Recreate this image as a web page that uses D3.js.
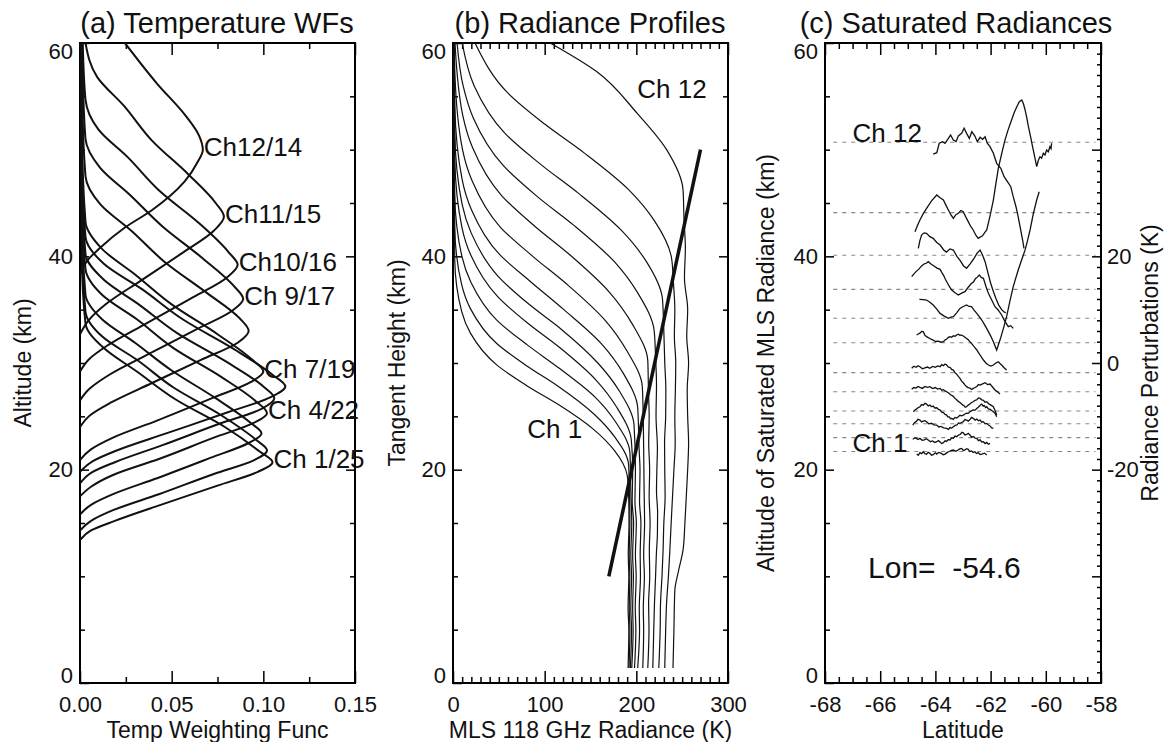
<!DOCTYPE html>
<meta charset="utf-8">
<body style="margin:0;background:#fff">
<script src="https://cdn.jsdelivr.net/npm/d3@7"></script>
<script>

    // ---------- (a) temperature weighting functions, [altitude km, weight]
    var wfCh1 = [[13.4,0],[14.3,0.006],[15.2,0.019],[16.7,0.044],[18.5,0.075],[19.8,0.097],[20.7,0.105],[21.7,0.098],[24.0,0.079],[26.6,0.052],[29.2,0.031],[31.4,0.013],[33.7,0.003],[40,0.001],[60,0.0005]];
    var wfCh2 = [[14.3,0],[15.2,0.006],[16.2,0.018],[17.7,0.043],[19.6,0.073],[20.9,0.095],[21.8,0.102],[22.8,0.096],[25.1,0.077],[27.7,0.051],[30.3,0.031],[32.5,0.012],[34.8,0.003],[42,0.001],[60,0.0005]];
    var wfCh3 = [[15.8,0],[16.7,0.006],[17.7,0.018],[19.2,0.042],[21.1,0.071],[22.5,0.092],[23.4,0.099],[24.4,0.093],[26.7,0.074],[29.3,0.050],[31.9,0.030],[34.1,0.012],[36.4,0.003],[44,0.001],[60,0.0006]];
    var wfCh4 = [[17.5,0],[18.4,0.006],[19.5,0.018],[21.0,0.043],[23.0,0.073],[24.4,0.095],[25.3,0.102],[26.4,0.096],[28.7,0.077],[31.4,0.051],[34.1,0.031],[36.4,0.012],[38.8,0.003],[46,0.001],[60,0.0006]];
    var wfCh5 = [[18.7,0],[19.7,0.006],[20.7,0.019],[22.3,0.045],[24.3,0.076],[25.7,0.099],[26.7,0.106],[27.8,0.100],[30.1,0.080],[32.8,0.053],[35.5,0.032],[37.8,0.013],[40.2,0.003],[48,0.001],[60,0.0007]];
    var wfCh6 = [[19.8,0],[20.8,0.007],[21.8,0.020],[23.4,0.047],[25.4,0.081],[26.8,0.104],[27.8,0.112],[28.9,0.105],[31.3,0.084],[34.1,0.056],[36.9,0.034],[39.3,0.013],[41.8,0.003],[50,0.001],[60,0.0008]];
    var wfCh7 = [[20.9,0],[21.9,0.006],[23.0,0.018],[24.6,0.042],[26.7,0.072],[28.2,0.093],[29.2,0.100],[30.3,0.094],[32.7,0.075],[35.5,0.050],[38.3,0.030],[40.7,0.012],[43.2,0.003],[52,0.001],[60,0.0008]];
    var wfCh8 = [[24.0,0],[25.1,0.0055],[26.3,0.017],[28.1,0.039],[30.3,0.066],[31.9,0.086],[33.0,0.092],[34.2,0.087],[36.6,0.069],[39.5,0.046],[42.4,0.028],[44.9,0.011],[47.5,0.003],[55,0.0012],[60,0.001]];
    var wfCh9 = [[26.5,0],[27.6,0.0053],[28.9,0.016],[30.8,0.037],[33.2,0.064],[34.9,0.083],[36.0,0.089],[37.2,0.084],[39.8,0.067],[42.8,0.045],[45.8,0.027],[48.3,0.011],[51.0,0.003],[57,0.0015],[60,0.0012]];
    var wfCh10 = [[29.2,0],[30.4,0.0052],[31.7,0.0155],[33.7,0.036],[36.2,0.062],[38.0,0.080],[39.2,0.086],[40.4,0.081],[43.1,0.065],[46.2,0.043],[49.3,0.026],[51.9,0.010],[54.7,0.003],[60,0.0015]];
    var wfCh11 = [[32.7,0],[34.0,0.0047],[35.5,0.014],[37.7,0.033],[40.4,0.0565],[42.4,0.073],[43.7,0.0785],[45.0,0.074],[47.7,0.059],[50.9,0.039],[54.1,0.024],[56.8,0.0094],[60,0.003]];
    var wfCh12 = [[38.2,0],[39.6,0.004],[40.8,0.011],[42.7,0.0245],[44.3,0.039],[47.0,0.057],[48.8,0.064],[50.0,0.067],[51.3,0.065],[53.1,0.058],[56.2,0.042],[60,0.0245]];
    var wfCurves = [wfCh1, wfCh2, wfCh3, wfCh4, wfCh5, wfCh6, wfCh7, wfCh8, wfCh9, wfCh10, wfCh11, wfCh12];
    var wfLabelCh = [12, 11, 10, 9, 7, 4, 1];
    var wfLabelText = ["Ch12/14", "Ch11/15", "Ch10/16", "Ch 9/17", "Ch 7/19", "Ch 4/22", "Ch 1/25"];

    // ---------- (b) radiance profiles, [tangent height km, radiance K]
    var radCh1 = [[60,0.5],[50,1],[45,1.5],[39.7,1.9],[34.8,9.6],[32.8,19],[29.8,48],[27.9,80],[26.1,115],[23.8,153],[21.8,176],[19.5,190],[18,191.5],[15,192],[12,191.2],[10,191.8],[7,191],[5,191.8],[1.4,191]];
    var radCh2 = [[60,0.7],[50,1.2],[42.7,1.9],[37.3,9.6],[35.1,19],[31.8,48],[29.7,81],[27.8,115],[25.2,154],[23,177],[20.5,191.5],[18,192.5],[15,193],[12,192.2],[10,192.9],[7,192.3],[5,193],[1.4,192]];
    var radCh3 = [[60,0.8],[52,1.3],[45.8,1.9],[40,9.7],[37.6,19.4],[34,48],[31.7,81],[29.5,116],[26.8,155],[24.4,178],[21.6,193],[18,194],[15,195],[12,194],[10,194.8],[7,194],[5,194.8],[1.4,193.5]];
    var radCh4 = [[60,1],[49.1,2],[42.7,9.8],[40.1,19.5],[36.2,49],[33.7,82],[31.4,117],[28.4,156],[25.8,179],[22.8,194.5],[20,196],[17,195.5],[15,197],[12,196],[10,196.8],[7,196],[5,196.5],[1.4,195]];
    var radCh5 = [[60,1.2],[51.5,2],[44.9,9.9],[42.2,19.8],[38.1,49.5],[35.5,83],[33.1,119],[30,158],[27.3,182],[24.2,197.5],[20,199],[17,198.5],[15,200],[12,199],[10,199.8],[7,198.8],[5,199.5],[1.4,198]];
    var radCh6 = [[60,1.3],[54.1,2],[47.2,10],[44.4,20],[40.2,50.5],[37.6,85],[35,121],[31.8,162],[29,186],[25.8,201.5],[22,203],[20,204],[17,203.5],[15,205],[12,204.2],[10,204.5],[7,203.2],[5,203.5],[1.4,201.5]];
    var radCh7 = [[60,1.5],[57.1,2.1],[50,10.4],[47.1,20.7],[42.7,52],[40,87],[37.4,124],[34,166],[31.1,190],[27.8,206.5],[25,207.5],[22,208],[18,208.5],[15,209],[12,208],[10,208.8],[7,207.6],[5,208],[1.4,207]];
    var radCh8 = [[60,2.2],[53.2,10.7],[50.2,21.3],[45.7,53],[42.8,89.5],[40.1,128],[36.7,170],[33.6,196],[30.2,212.5],[27.5,213.2],[25,214],[22.5,213.5],[20,214.5],[17.5,214],[15,215],[12.5,214.2],[10,214.6],[7.5,213.4],[5,213.8],[1.4,212.5]];
    var radCh9 = [[60,4.4],[56,11],[53,22],[48.5,55],[45.6,92],[42.9,132],[39.5,176],[36.5,202],[33,219.5],[30.5,221],[28,222],[25,221.5],[22,223],[20,222.4],[18,222],[16,223.2],[14,223],[12,221.8],[10,221],[7.5,219.8],[5,219],[1.4,218]];
    var radCh10 = [[60,10],[56,23],[51.5,57],[48.6,96],[45.9,137],[42.5,183],[39.5,211],[36,228.5],[33,230],[30,231],[27.5,232.2],[25,232],[22.5,230.8],[20,231],[17.5,231.4],[15,230],[12.5,229.2],[10,228],[7.5,226.4],[5,226],[1.4,224.5]];
    var radCh11 = [[60,24],[55.3,60],[52.4,100],[49.7,143],[46.3,191],[43.3,220],[39.8,238.5],[37.5,240.5],[35,242],[32.5,241.5],[30,243],[27.5,242.6],[25,242],[22.5,242.4],[20,241],[17.5,239.5],[15,238],[12.5,236.6],[10,235],[7.5,233],[5,232],[1.4,231]];
    var radCh12 = [[60,106],[57.3,157],[53.4,201],[50,233],[46.2,251],[43.5,252],[40.8,253.5],[38,252.5],[35,256],[32.5,255],[30,257],[27.5,255.5],[25,256],[22.5,257],[20,256],[17.5,254.5],[15,253],[12.5,251],[10.5,246],[8.7,242],[5,241],[1.4,240]];
    var radCurves = [radCh1, radCh2, radCh3, radCh4, radCh5, radCh6, radCh7, radCh8, radCh9, radCh10, radCh11, radCh12];
    var satMarker = [[170,10],[270,50]];   // [K, km]

    // ---------- (c) saturated radiances, [latitude, altitude km]
    var satAlt = [21.7, 23.0, 24.3, 25.5, 27.3, 29.1, 31.9, 34.2, 36.9, 40.1, 44.1, 50.7];
    var satCh1 = [[-64.68,21.46],[-64.62,21.35],[-64.56,21.6],[-64.5,21.5],[-64.44,21.68],[-64.38,21.5],[-64.32,21.45],[-64.26,21.62],[-64.2,21.53],[-64.14,21.35],[-64.08,21.4],[-64.0,21.58],[-63.95,21.46],[-63.88,21.62],[-63.8,21.55],[-63.72,21.4],[-63.65,21.46],[-63.57,21.62],[-63.5,21.7],[-63.42,21.8],[-63.35,21.84],[-63.27,21.72],[-63.2,21.8],[-63.12,21.95],[-63.05,21.99],[-62.99,21.8],[-62.93,21.85],[-62.87,21.96],[-62.81,21.9],[-62.75,21.7],[-62.69,21.75],[-62.63,21.62],[-62.57,21.68],[-62.51,21.52],[-62.45,21.6],[-62.38,21.42],[-62.32,21.46],[-62.22,21.55],[-62.14,21.37]];
    var satCh2 = [[-64.82,22.84],[-64.76,22.98],[-64.7,22.95],[-64.63,22.82],[-64.56,22.93],[-64.48,22.75],[-64.4,22.8],[-64.33,22.9],[-64.26,22.78],[-64.18,22.62],[-64.1,22.7],[-64.02,22.55],[-63.95,22.62],[-63.89,22.72],[-63.83,22.6],[-63.77,22.45],[-63.71,22.53],[-63.65,22.7],[-63.6,22.65],[-63.53,22.82],[-63.47,22.78],[-63.41,22.98],[-63.35,22.95],[-63.29,23.15],[-63.23,23.09],[-63.16,23.25],[-63.1,23.3],[-63.04,23.5],[-62.99,23.46],[-62.93,23.25],[-62.87,23.3],[-62.81,23.4],[-62.75,23.25],[-62.68,23.05],[-62.62,23.1],[-62.56,22.95],[-62.5,22.93],[-62.44,22.72],[-62.38,22.8],[-62.32,22.6],[-62.26,22.62],[-62.2,22.45],[-62.14,22.55],[-62.08,22.38],[-62.02,22.46]];
    var satCh3 = [[-64.82,24.18],[-64.76,24.4],[-64.7,24.5],[-64.63,24.72],[-64.56,24.65],[-64.5,24.48],[-64.44,24.55],[-64.38,24.6],[-64.32,24.5],[-64.24,24.3],[-64.15,24.35],[-64.05,24.2],[-63.95,24.18],[-63.88,24.0],[-63.8,24.05],[-63.7,23.92],[-63.59,23.87],[-63.53,23.78],[-63.47,23.95],[-63.41,23.9],[-63.35,24.03],[-63.28,24.15],[-63.22,24.2],[-63.16,24.38],[-63.11,24.34],[-63.05,24.42],[-62.99,24.5],[-62.93,24.7],[-62.87,24.65],[-62.81,24.55],[-62.75,24.7],[-62.69,24.9],[-62.63,24.81],[-62.56,24.65],[-62.5,24.75],[-62.44,24.58],[-62.38,24.65],[-62.32,24.45],[-62.26,24.5],[-62.2,24.3],[-62.14,24.34],[-62.08,24.18],[-62.02,24.1],[-61.96,23.92],[-61.9,23.87]];
    var satCh4 = [[-64.8,25.43],[-64.74,25.6],[-64.68,25.7],[-64.62,25.82],[-64.56,25.9],[-64.5,26.1],[-64.44,26.05],[-64.38,26.22],[-64.32,26.15],[-64.26,25.98],[-64.2,26.05],[-64.14,25.9],[-64.08,25.97],[-64.02,25.78],[-63.95,25.8],[-63.89,25.65],[-63.83,25.59],[-63.77,25.4],[-63.71,25.35],[-63.65,25.18],[-63.59,25.12],[-63.55,24.95],[-63.5,24.95],[-63.45,24.78],[-63.41,24.81],[-63.35,24.72],[-63.29,24.9],[-63.23,24.85],[-63.17,24.97],[-63.11,25.1],[-63.05,25.05],[-62.99,25.12],[-62.93,25.22],[-62.87,25.3],[-62.81,25.28],[-62.75,25.43],[-62.69,25.52],[-62.63,25.6],[-62.56,25.58],[-62.5,25.74],[-62.45,25.85],[-62.41,25.95],[-62.36,26.08],[-62.32,26.15],[-62.27,25.95],[-62.23,26.0],[-62.18,25.82],[-62.14,25.9],[-62.08,25.7],[-62.02,25.65],[-61.96,25.55],[-61.9,25.43],[-61.84,25.3],[-61.78,24.97]];
    var satCh5 = [[-64.86,27.53],[-64.78,27.7],[-64.7,27.65],[-64.63,27.8],[-64.56,27.71],[-64.47,27.62],[-64.38,27.8],[-64.29,27.72],[-64.2,27.78],[-64.1,27.6],[-64.0,27.7],[-63.92,27.55],[-63.83,27.62],[-63.77,27.45],[-63.71,27.5],[-63.65,27.38],[-63.59,27.31],[-63.52,27.18],[-63.44,27.0],[-63.36,26.9],[-63.29,26.68],[-63.23,26.55],[-63.17,26.4],[-63.11,26.3],[-63.05,26.15],[-63.0,26.05],[-62.96,26.0],[-62.92,25.85],[-62.87,25.9],[-62.81,26.05],[-62.75,26.15],[-62.69,26.3],[-62.63,26.37],[-62.56,26.5],[-62.5,26.55],[-62.44,26.72],[-62.38,26.68],[-62.32,26.55],[-62.26,26.5],[-62.2,26.32],[-62.14,26.37],[-62.08,26.2],[-62.02,26.1],[-61.96,26.0],[-61.9,25.9],[-61.84,25.55],[-61.78,25.12]];
    var satCh6 = [[-64.86,29.5],[-64.78,29.7],[-64.7,29.6],[-64.63,29.75],[-64.56,29.65],[-64.47,29.45],[-64.38,29.55],[-64.29,29.62],[-64.2,29.5],[-64.1,29.68],[-64.0,29.6],[-63.92,29.72],[-63.83,29.65],[-63.77,29.85],[-63.71,29.75],[-63.65,29.9],[-63.59,29.81],[-63.53,29.62],[-63.47,29.6],[-63.41,29.4],[-63.35,29.34],[-63.29,29.1],[-63.23,28.95],[-63.17,28.75],[-63.11,28.56],[-63.05,28.3],[-62.99,28.15],[-62.93,27.95],[-62.87,27.78],[-62.81,27.7],[-62.75,27.65],[-62.69,27.52],[-62.63,27.62],[-62.56,27.7],[-62.5,27.8],[-62.44,27.98],[-62.38,27.93],[-62.29,28.05],[-62.2,28.15],[-62.11,27.98],[-62.02,28.03],[-61.93,27.75],[-61.84,27.47],[-61.75,27.3],[-61.66,27.09]];
    var satCh7 = [[-64.68,32.63],[-64.62,32.72],[-64.56,32.8],[-64.5,32.95],[-64.44,32.94],[-64.38,32.6],[-64.32,32.47],[-64.26,32.38],[-64.2,32.3],[-64.14,32.22],[-64.08,32.15],[-64.0,32.02],[-63.9,32.05],[-63.8,31.95],[-63.71,32.0],[-63.65,32.15],[-63.59,32.25],[-63.53,32.4],[-63.47,32.47],[-63.41,32.42],[-63.35,32.55],[-63.29,32.5],[-63.23,32.63],[-63.17,32.7],[-63.11,32.6],[-63.05,32.62],[-62.99,32.53],[-62.93,32.42],[-62.87,32.3],[-62.81,32.18],[-62.75,32.0],[-62.68,31.8],[-62.62,31.6],[-62.56,31.42],[-62.5,31.22],[-62.44,30.98],[-62.38,30.75],[-62.32,30.5],[-62.26,30.28],[-62.17,30.0],[-62.08,29.81],[-61.99,29.72],[-61.9,29.81],[-61.81,30.0],[-61.72,30.12],[-61.66,29.95],[-61.6,29.81],[-61.51,29.55],[-61.42,29.34]];
    var satCh8 = [[-64.58,35.97],[-64.45,35.95],[-64.32,35.9],[-64.2,35.7],[-64.08,35.44],[-63.95,35.05],[-63.83,34.65],[-63.68,34.4],[-63.53,34.19],[-63.44,34.3],[-63.35,34.34],[-63.23,34.7],[-63.11,35.12],[-62.99,35.3],[-62.87,35.44],[-62.78,35.3],[-62.69,35.28],[-62.6,34.95],[-62.5,34.65],[-62.41,34.35],[-62.32,34.03],[-62.2,33.5],[-62.08,32.94],[-61.99,32.5],[-61.9,32.0],[-61.78,31.22],[-61.66,32.15],[-61.54,33.2],[-61.42,34.34],[-61.3,35.8],[-61.18,37.16],[-61.0,38.72],[-60.87,39.7],[-60.75,40.6],[-60.66,41.5],[-60.57,42.47],[-60.45,44.03],[-60.33,45.28],[-60.24,46.06]];
    var satCh9 = [[-64.86,38.09],[-64.73,38.5],[-64.6,38.8],[-64.5,39.1],[-64.4,39.3],[-64.33,39.35],[-64.26,39.5],[-64.15,39.25],[-64.05,39.1],[-63.94,38.9],[-63.83,38.78],[-63.76,38.45],[-63.7,38.2],[-63.64,37.85],[-63.59,37.62],[-63.5,37.2],[-63.41,36.84],[-63.3,36.6],[-63.17,36.37],[-63.05,36.55],[-62.93,36.69],[-62.81,37.1],[-62.69,37.47],[-62.62,37.6],[-62.55,37.9],[-62.48,38.05],[-62.41,38.25],[-62.33,38.0],[-62.26,37.94],[-62.17,37.2],[-62.08,36.53],[-61.96,35.9],[-61.84,35.28],[-61.72,34.95],[-61.6,34.5],[-61.48,33.9],[-61.36,33.41],[-61.27,33.5],[-61.18,33.25]];
    var satCh10 = [[-64.62,40.75],[-64.56,41.5],[-64.5,42.0],[-64.41,42.2],[-64.32,42.16],[-64.2,41.85],[-64.08,41.69],[-63.95,41.3],[-63.83,41.06],[-63.7,40.6],[-63.6,40.4],[-63.47,40.7],[-63.35,40.59],[-63.22,40.0],[-63.1,39.6],[-62.98,39.1],[-62.87,38.88],[-62.74,39.3],[-62.6,39.8],[-62.49,40.3],[-62.38,40.59],[-62.29,40.1],[-62.2,39.5],[-62.1,38.5],[-62.0,37.5],[-61.9,36.7],[-61.8,36.0],[-61.7,35.4],[-61.6,35.0],[-61.52,34.8],[-61.45,34.7]];
    var satCh11 = [[-64.74,42.31],[-64.65,42.9],[-64.56,43.41],[-64.44,44.0],[-64.32,44.5],[-64.14,45.2],[-63.95,45.75],[-63.83,45.5],[-63.71,45.28],[-63.62,44.8],[-63.53,44.34],[-63.44,43.9],[-63.35,43.56],[-63.26,43.9],[-63.17,44.03],[-63.08,44.3],[-62.99,44.19],[-62.9,43.7],[-62.81,43.25],[-62.72,42.8],[-62.63,42.47],[-62.54,42.0],[-62.45,41.69],[-62.38,41.8],[-62.3,41.9],[-62.22,42.2],[-62.14,42.47],[-62.02,43.8],[-61.9,45.28],[-61.81,46.8],[-61.72,48.25],[-61.6,49.6],[-61.48,50.9],[-61.36,51.9],[-61.24,52.78],[-61.14,53.5],[-61.05,54.03],[-60.96,54.5],[-60.87,54.66],[-60.81,54.3],[-60.75,53.72],[-60.69,53.0],[-60.63,52.16],[-60.55,51.2],[-60.48,50.28],[-60.4,49.3],[-60.33,48.41],[-60.27,49.0],[-60.21,49.34],[-60.15,49.2],[-60.09,49.66],[-60.03,49.5],[-59.97,49.97],[-59.91,49.8],[-59.85,50.28],[-59.81,50.1],[-59.79,50.6]];
    var satCh12 = [[-64.08,49.59],[-63.95,49.72],[-63.86,50.6],[-63.74,50.75],[-63.65,50.6],[-63.53,51.06],[-63.45,51.37],[-63.35,50.9],[-63.25,50.75],[-63.17,51.28],[-63.05,51.53],[-62.96,52.0],[-62.87,51.53],[-62.77,51.06],[-62.68,51.68],[-62.57,51.28],[-62.48,50.75],[-62.38,51.16],[-62.29,50.97],[-62.2,51.21],[-62.12,50.6],[-62.02,50.28],[-61.9,49.66],[-61.78,48.72],[-61.63,48.25],[-61.51,47.47],[-61.39,47.0],[-61.27,46.53],[-61.18,45.59],[-61.08,44.65],[-61.0,43.71],[-60.91,42.47],[-60.84,41.53],[-60.79,40.75]];
    var satCurves = [satCh1, satCh2, satCh3, satCh4, satCh5, satCh6, satCh7, satCh8, satCh9, satCh10, satCh11, satCh12];
    var lonText = "Lon=\u00a0 -54.6";

    var FONT = "'Liberation Sans', Arial, Helvetica, sans-serif";
    var yTop = 43, yBot = 683;

    var svg = d3.select("body").append("svg")
        .attr("width", 1171).attr("height", 742)
        .style("font-family", FONT);

    var yAlt = d3.scaleLinear().domain([0, 60]).range([yBot, yTop]);
    var xWF = d3.scaleLinear().domain([0, 0.15]).range([80, 355]);
    var xRad = d3.scaleLinear().domain([0, 300]).range([453, 728]);
    var xLat = d3.scaleLinear().domain([-68, -58]).range([825, 1101]);
    var yPert = d3.scaleLinear().domain([-60, 60]).range([yBot, yTop]);

    function styleAxis(g) {
        g.select(".domain").remove();
        g.selectAll("line").attr("stroke", "#000").attr("stroke-width", 1.5);
        g.selectAll("text").attr("font-size", 22).attr("fill", "#111").attr("font-family", FONT);
    }

    function frame(x, o) {
        var x0 = x.range()[0], x1 = x.range()[1];
        var g = svg.append("g");
        g.append("g").attr("transform", "translate(0," + yBot + ")")
            .call(d3.axisBottom(x).tickValues(o.xMajor).tickSize(-12).tickPadding(13).tickFormat(o.xFmt)).call(styleAxis);
        g.append("g").attr("transform", "translate(0," + yBot + ")")
            .call(d3.axisBottom(x).tickValues(o.xMinor).tickSize(-6).tickFormat("")).call(styleAxis);
        g.append("g").attr("transform", "translate(0," + yTop + ")")
            .call(d3.axisTop(x).tickValues(o.xMajor).tickSize(-12).tickFormat("")).call(styleAxis);
        g.append("g").attr("transform", "translate(0," + yTop + ")")
            .call(d3.axisTop(x).tickValues(o.xMinor).tickSize(-6).tickFormat("")).call(styleAxis);
        var left = g.append("g").attr("transform", "translate(" + x0 + ",0)")
            .call(d3.axisLeft(yAlt).tickValues([0, 20, 40, 60]).tickSize(-9).tickPadding(7).tickFormat(d3.format("d"))).call(styleAxis);
        left.selectAll("text").attr("y", function(d) { return d === 0 ? -8 : (d === 60 ? 8 : 0); });
        g.append("g").attr("transform", "translate(" + x0 + ",0)")
            .call(d3.axisLeft(yAlt).tickValues([5, 10, 15, 25, 30, 35, 45, 50, 55]).tickSize(-5).tickFormat("")).call(styleAxis);
        if (o.rightPert) {
            g.append("g").attr("transform", "translate(" + x1 + ",0)")
                .call(d3.axisRight(yPert).tickValues([-40, -20, 0, 20, 40]).tickSize(-9).tickPadding(6)
                    .tickFormat(function(d) { return (d === 20 || d === 0 || d === -20) ? String(d) : ""; })).call(styleAxis);
            g.append("g").attr("transform", "translate(" + x1 + ",0)")
                .call(d3.axisRight(yPert).tickValues(d3.range(-58, 60, 2).filter(function(d) { return d % 20 !== 0; })).tickSize(-4).tickFormat("")).call(styleAxis);
        } else {
            g.append("g").attr("transform", "translate(" + x1 + ",0)")
                .call(d3.axisRight(yAlt).tickValues([20, 40]).tickSize(-9).tickFormat("")).call(styleAxis);
            g.append("g").attr("transform", "translate(" + x1 + ",0)")
                .call(d3.axisRight(yAlt).tickValues([5, 10, 15, 25, 30, 35, 45, 50, 55]).tickSize(-5).tickFormat("")).call(styleAxis);
        }
        g.append("rect").attr("x", x0).attr("y", yTop).attr("width", x1 - x0).attr("height", yBot - yTop)
            .attr("fill", "none").attr("stroke", "#000").attr("stroke-width", 2);
        // titles
        svg.append("text").attr("x", o.titleX).attr("y", 33).attr("text-anchor", "middle")
            .attr("font-size", 29).attr("fill", "#111").text(o.title);
        svg.append("text").attr("x", (x0 + x1) / 2).attr("y", 738).attr("text-anchor", "middle")
            .attr("font-size", 23).attr("fill", "#111").text(o.xTitle);
        svg.append("text").attr("transform", "translate(" + o.yTitleX + ",363) rotate(-90)")
            .attr("text-anchor", "middle").attr("font-size", 23).attr("fill", "#111").text(o.yTitle);
        var clipId = "clip" + Math.round(x0);
        svg.append("clipPath").attr("id", clipId).append("rect")
            .attr("x", x0).attr("y", yTop).attr("width", x1 - x0).attr("height", yBot - yTop);
        return "url(#" + clipId + ")";
    }

    // ---------- panel (a)
    var clipA = frame(xWF, {
        xMajor: [0, 0.05, 0.1, 0.15], xMinor: [0.025, 0.075, 0.125], xFmt: d3.format(".2f"),
        title: "(a) Temperature WFs", titleX: 217, xTitle: "Temp Weighting Func",
        yTitle: "Altitude (km)", yTitleX: 31
    });
    var wfLine = d3.line()
        .x(function(d) { return xWF(d[1]); })
        .y(function(d) { return yAlt(d[0]); })
        .curve(d3.curveMonotoneY);
    svg.append("g").attr("clip-path", clipA)
        .selectAll("path").data(wfCurves).enter().append("path")
        .attr("d", wfLine).attr("fill", "none").attr("stroke", "#111").attr("stroke-width", 2);
    svg.append("g").selectAll("text").data(wfLabelCh).enter().append("text")
        .attr("x", function(c) { var p = d3.greatest(wfCurves[c - 1], function(d) { return d[1]; }); return xWF(p[1]) + 1; })
        .attr("y", function(c) { var p = d3.greatest(wfCurves[c - 1], function(d) { return d[1]; }); return yAlt(p[0]) + 6; })
        .attr("font-size", 26).attr("fill", "#111")
        .text(function(c, i) { return wfLabelText[i]; });

    // ---------- panel (b)
    var clipB = frame(xRad, {
        xMajor: [0, 100, 200, 300], xMinor: d3.range(10, 300, 10).filter(function(d) { return d % 100 !== 0; }), xFmt: d3.format("d"),
        title: "(b) Radiance Profiles", titleX: 590, xTitle: "MLS 118 GHz Radiance (K)",
        yTitle: "Tangent Height (km)", yTitleX: 405
    });
    var radLine = d3.line()
        .x(function(d) { return xRad(d[1]); })
        .y(function(d) { return yAlt(d[0]); })
        .curve(d3.curveMonotoneY);
    svg.append("g").attr("clip-path", clipB)
        .selectAll("path").data(radCurves).enter().append("path")
        .attr("d", radLine).attr("fill", "none").attr("stroke", "#111").attr("stroke-width", 1.2);
    svg.append("line")
        .attr("x1", xRad(satMarker[0][0])).attr("y1", yAlt(satMarker[0][1]))
        .attr("x2", xRad(satMarker[1][0])).attr("y2", yAlt(satMarker[1][1]))
        .attr("stroke", "#111").attr("stroke-width", 3.5);
    svg.append("text").attr("x", xRad(201)).attr("y", yAlt(54.8)).attr("font-size", 26).attr("fill", "#111").text("Ch 12");
    svg.append("text").attr("x", xRad(81)).attr("y", yAlt(23.0)).attr("font-size", 26).attr("fill", "#111").text("Ch 1");

    // ---------- panel (c)
    var clipC = frame(xLat, {
        xMajor: d3.range(-68, -57, 2), xMinor: d3.range(-67.5, -58, 0.5).filter(function(d) { return d % 2 !== 0; }),
        xFmt: function(d) { return String(d); },
        title: "(c) Saturated Radiances", titleX: 956, xTitle: "Latitude",
        yTitle: "Altitude of Saturated MLS Radiance (km)", yTitleX: 774, rightPert: true
    });
    svg.append("g").selectAll("line").data(satAlt).enter().append("line")
        .attr("x1", xLat(-67.7)).attr("x2", xLat(-58.2))
        .attr("y1", function(d) { return yAlt(d); }).attr("y2", function(d) { return yAlt(d); })
        .attr("stroke", "#888").attr("stroke-width", 1.1).attr("stroke-dasharray", "4,5");
    var satLine = d3.line()
        .x(function(d) { return xLat(d[0]); })
        .y(function(d) { return yAlt(d[1]); });
    svg.append("g").attr("clip-path", clipC)
        .selectAll("path").data(satCurves).enter().append("path")
        .attr("d", satLine).attr("fill", "none").attr("stroke", "#111").attr("stroke-width", 1.3);
    svg.append("text").attr("x", xLat(-67.0)).attr("y", yAlt(satAlt[11])).attr("font-size", 26).attr("fill", "#111").text("Ch 12");
    svg.append("text").attr("x", xLat(-67.0)).attr("y", yAlt(satAlt[0])).attr("font-size", 26).attr("fill", "#111").text("Ch 1");
    svg.append("text").attr("x", xLat(-66.44)).attr("y", yAlt(9.85)).attr("font-size", 30).attr("fill", "#111").text(lonText);
    svg.append("text").attr("transform", "translate(1158,363) rotate(-90)")
        .attr("text-anchor", "middle").attr("font-size", 23).attr("fill", "#111").text("Radiance Perturbations (K)");

</script>
